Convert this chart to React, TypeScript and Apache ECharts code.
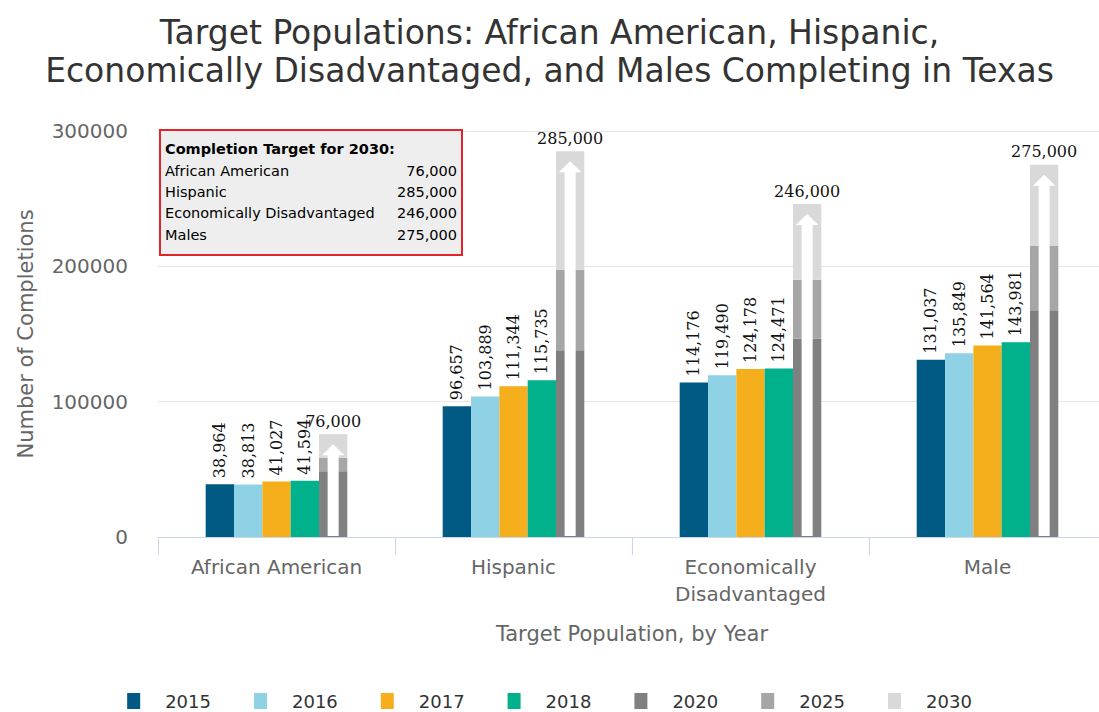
import React, { useEffect, useRef } from "react";
import * as echarts from "echarts";

const categories = ["African American", "Hispanic", "Economically\nDisadvantaged", "Male"];
const years = ["2015", "2016", "2017", "2018", "2020", "2025", "2030"];
const v2015 = [38964, 96657, 114176, 131037];
const v2016 = [38813, 103889, 119490, 135849];
const v2017 = [41027, 111344, 124178, 141564];
const v2018 = [41594, 115735, 124471, 143981];
const v2020 = [48500, 138000, 146500, 167500];
const v2025 = [58500, 197500, 190000, 215000];
const target2030 = [76000, 285000, 246000, 275000];
const targetNames = ["African American", "Hispanic", "Economically Disadvantaged", "Males"];
const yMin = 0;
const yMax = 300000;
const yStep = 100000;

const colors = ["#005a84", "#8fd2e6", "#f5ae1c", "#00b18b", "#808080", "#a6a6a6", "#d9d9d9"];
const SANS = "DejaVu Sans";
const SERIF = "DejaVu Serif";
const BAR_FRAC = 0.1195;

const fmt = (v: number) => v.toLocaleString("en-US");

export default function App() {
  const ref = useRef<HTMLDivElement>(null);
  useEffect(() => {
    document.body.style.margin = "0";
    const chart = echarts.init(ref.current!, null, { renderer: "svg" });
    const barLabel = {
      show: true,
      position: "top",
      rotate: 90,
      align: "left",
      verticalAlign: "middle",
      distance: 6,
      fontFamily: SERIF,
      fontSize: 16,
      color: "#111",
      formatter: (p: any) => fmt(p.value),
    };
    const yearly = [v2015, v2016, v2017, v2018];
    const series: any[] = yearly.map((d, i) => ({
      name: years[i],
      type: "bar",
      data: d,
      barWidth: `${BAR_FRAC * 100}%`,
      barGap: "0%",
      itemStyle: { color: colors[i] },
      label: barLabel,
    }));
    series.push({
      name: "2020",
      type: "bar",
      stack: "proj",
      data: v2020,
      barWidth: `${BAR_FRAC * 100}%`,
      barGap: "0%",
      itemStyle: { color: colors[4] },
    });
    series.push({
      name: "2025",
      type: "bar",
      stack: "proj",
      data: v2025.map((v, i) => v - v2020[i]),
      barWidth: `${BAR_FRAC * 100}%`,
      barGap: "0%",
      itemStyle: { color: colors[5] },
    });
    series.push({
      name: "2030",
      type: "bar",
      stack: "proj",
      data: target2030.map((v, i) => v - v2025[i]),
      barWidth: `${BAR_FRAC * 100}%`,
      barGap: "0%",
      itemStyle: { color: colors[6] },
      label: {
        show: true,
        position: "top",
        distance: 5,
        fontFamily: SERIF,
        fontSize: 16,
        color: "#111",
        formatter: (p: any) => fmt(target2030[p.dataIndex]),
      },
    });
    series.push({
      type: "custom",
      silent: true,
      z: 5,
      data: target2030.map((t, i) => [i, t]),
      encode: { x: 0, y: 1 },
      renderItem: (params: any, api: any) => {
        const idx = api.value(0);
        const top = api.coord([idx, api.value(1)]);
        const base = api.coord([idx, 0]);
        const band = api.size([1, 0])[0];
        const bw = band * BAR_FRAC;
        const cx = top[0] + 2 * bw;
        const shaftW = bw * 0.39;
        const headW = bw * 0.8;
        const apexY = top[1] + 10;
        const headBase = top[1] + 21;
        return {
          type: "group",
          children: [
            {
              type: "rect",
              shape: { x: cx - shaftW / 2, y: headBase - 0.5, width: shaftW, height: base[1] - headBase - 0.5 },
              style: { fill: "#ffffff" },
            },
            {
              type: "polygon",
              shape: { points: [[cx - headW / 2, headBase], [cx, apexY], [cx + headW / 2, headBase]] },
              style: { fill: "#ffffff" },
            },
          ],
        };
      },
    });

    const boxX = 160, boxY = 130, boxW = 302, boxH = 125;
    const rowY = [171, 192, 213, 235];
    const graphic: any[] = [
      {
        type: "rect",
        shape: { x: boxX, y: boxY, width: boxW, height: boxH },
        style: { fill: "#eeeeee", stroke: "#e3242b", lineWidth: 2 },
        z: 10,
      },
      {
        type: "text",
        x: 165,
        y: 149,
        z: 11,
        style: { text: "Completion Target for 2030:", fontFamily: SANS, fontSize: 14.5, fontWeight: "bold", fill: "#000", verticalAlign: "middle" },
      },
    ];
    targetNames.forEach((n, i) => {
      graphic.push({
        type: "text",
        x: 165,
        y: rowY[i],
        z: 11,
        style: { text: n, fontFamily: SANS, fontSize: 14.5, fill: "#000", verticalAlign: "middle" },
      });
      graphic.push({
        type: "text",
        x: 457,
        y: rowY[i],
        z: 11,
        style: { text: fmt(target2030[i]), fontFamily: SANS, fontSize: 14.5, fill: "#000", verticalAlign: "middle", align: "right" },
      });
    });

    chart.setOption({
      animation: false,
      backgroundColor: "#ffffff",
      title: {
        text: "Target Populations: African American, Hispanic,\nEconomically Disadvantaged, and Males Completing in Texas",
        left: "center",
        top: 8,
        textStyle: { fontFamily: SANS, fontSize: 33, fontWeight: "normal", color: "#333", lineHeight: 38 },
      },
      grid: { left: 158, right: -7, top: 131, bottom: 175, containLabel: false, outerBoundsMode: "none" },
      legend: {
        data: years,
        left: "center",
        top: 692,
        icon: "rect",
        itemWidth: 13,
        itemHeight: 16,
        itemGap: 43,
        padding: 0,
        textStyle: { fontFamily: SANS, fontSize: 18, lineHeight: 18, color: "#333", padding: [0, 0, 0, 20] },
      },
      xAxis: {
        type: "category",
        data: categories,
        name: "Target Population, by Year",
        nameLocation: "middle",
        nameGap: 86,
        nameTextStyle: { fontFamily: SANS, fontSize: 21, color: "#666" },
        axisLine: { lineStyle: { color: "#ccd6eb", width: 1 } },
        axisTick: { show: true, length: 18, interval: 0, lineStyle: { color: "#ccd6eb" } },
        axisLabel: { interval: 0, fontFamily: SANS, fontSize: 20, color: "#666", margin: 16, lineHeight: 27 },
      },
      yAxis: {
        type: "value",
        min: yMin,
        max: yMax,
        interval: yStep,
        name: "Number of Completions",
        nameLocation: "middle",
        nameGap: 122,
        nameTextStyle: { fontFamily: SANS, fontSize: 21, color: "#666" },
        axisLine: { show: false },
        axisTick: { show: false },
        axisLabel: { fontFamily: SANS, fontSize: 20, color: "#666", margin: 30, formatter: (v: number) => String(v) },
        splitLine: { lineStyle: { color: "#e6e6e6" } },
      },
      graphic,
      series,
    });
    return () => chart.dispose();
  }, []);
  return <div ref={ref} style={{ width: 1099, height: 712 }} />;
}
